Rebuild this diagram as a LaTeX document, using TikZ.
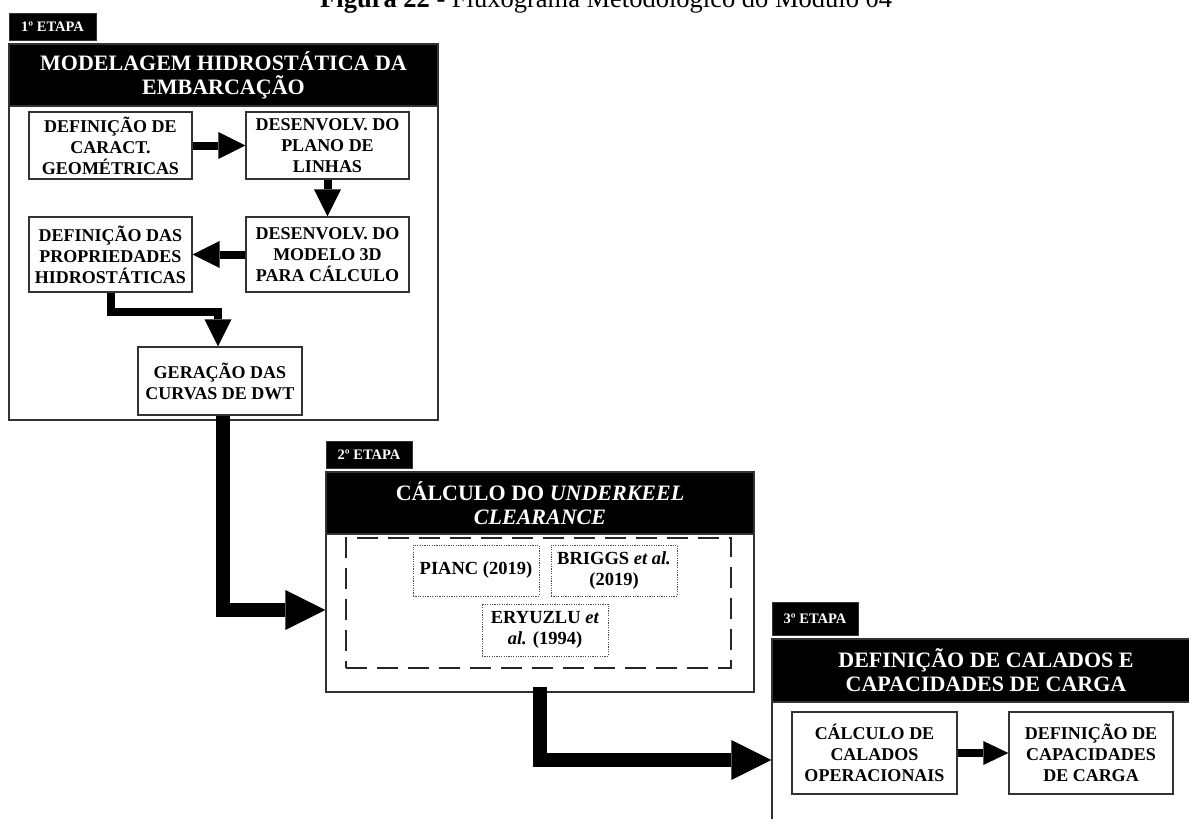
\documentclass[tikz,border=0pt]{standalone}
\usepackage{fontspec}
\setmainfont{Liberation Serif}
\usetikzlibrary{arrows.meta}

\tikzset{
  stagebox/.style={draw=black!80, line width=1.3pt, fill=white, inner sep=0pt},
  stagehead/.style={fill=black, draw=black!80, line width=1.3pt, text=white, inner sep=0pt,
    align=center, font=\fontsize{22}{24}\selectfont\bfseries},
  tagbox/.style={fill=black, draw=black!80, line width=1pt, text=white, inner sep=0pt,
    font=\fontsize{14.5}{14.5}\selectfont\bfseries},
  stepbox/.style={draw=black!80, line width=1.3pt, fill=white, inner sep=0pt, align=center,
    font=\fontsize{18}{21}\selectfont\bfseries},
  refbox/.style={draw=black!70, line width=1pt, dash pattern=on 1.2pt off 1.2pt, inner sep=0pt,
    align=center, font=\fontsize{18.5}{21}\selectfont\bfseries},
  groupbox/.style={draw=black!85, line width=1.5pt, dash pattern=on 21pt off 10pt, inner sep=0pt},
  bigarrow/.style={line width=14pt, -{Triangle[length=40pt,width=40pt,line width=0pt]}},
  midarrow/.style={line width=8pt, -{Triangle[length=27pt,width=27pt,line width=0pt]}},
  smallarrow/.style={line width=8pt, -{Triangle[length=25pt,width=24pt,line width=0pt]}},
}

\begin{document}
\begin{tikzpicture}[x=1pt, y=-1pt]
\useasboundingbox (0,0) rectangle (1189,819);
\clip (0,0) rectangle (1189,819);

% caption
\node[anchor=base west, inner sep=0pt, font=\fontsize{26.5}{28}\selectfont] (cap) at (320,8)
  {\textbf{Figura 22} - Fluxograma Metodológico do Módulo 04};

% ---------- stage 1 ----------
\node[tagbox, minimum width=87pt, minimum height=27pt] (t1) at (52.5,26.5) {1º ETAPA};
\node[stagebox, minimum width=429pt, minimum height=376pt] (s1) at (223.5,232) {};
\node[stagehead, minimum width=429pt, minimum height=62pt] (h1) at (223.5,75)
  {MODELAGEM HIDROSTÁTICA DA\\EMBARCAÇÃO};

\node[stepbox, minimum width=163pt, minimum height=67pt] (A) at (110.5,145.5)
  {DEFINIÇÃO DE\\CARACT.\\GEOMÉTRICAS};
\node[stepbox, minimum width=163pt, minimum height=67pt] (B) at (327.5,145.5)
  {DESENVOLV. DO\\PLANO DE\\LINHAS};
\node[stepbox, minimum width=163pt, minimum height=75pt] (C) at (327.5,254.5)
  {DESENVOLV. DO\\MODELO 3D\\PARA CÁLCULO};
\node[stepbox, minimum width=163pt, minimum height=75pt] (D) at (110.5,254.5)
  {DEFINIÇÃO DAS\\PROPRIEDADES\\HIDROSTÁTICAS};
\node[stepbox, minimum width=164pt, minimum height=68pt] (E) at (220,381)
  {GERAÇÃO DAS\\CURVAS DE DWT};

\draw[midarrow] (A.east) -- (B.west);
\draw[midarrow] (B.south) -- (C.north);
\draw[midarrow] (C.west) -- (D.east);
\draw[midarrow] (D.south) -- (D.south |- 0,312) -| ([xshift=-2pt]E.north);

% ---------- stage 2 ----------
\node[tagbox, minimum width=86pt, minimum height=27pt] (t2) at (369,454.5) {2º ETAPA};
\node[stagebox, minimum width=428pt, minimum height=220pt] (s2) at (540,582) {};
\node[stagehead, minimum width=428pt, minimum height=62pt] (h2) at (540,503)
  {CÁLCULO DO \textit{UNDERKEEL}\\\textit{CLEARANCE}};
\node[groupbox, minimum width=385pt, minimum height=130pt] (g2) at (538.5,603) {};

\node[refbox, minimum width=126pt, minimum height=51pt] (P) at (476,570.5) {PIANC (2019)};
\node[refbox, minimum width=126pt, minimum height=51pt] (Br) at (614,570.5)
  {BRIGGS \textit{et al.}\\(2019)};
\node[refbox, minimum width=126pt, minimum height=52pt] (Er) at (545,630)
  {ERYUZLU \textit{et}\\\textit{al.} (1994)};

% ---------- stage 3 ----------
\node[tagbox, minimum width=86pt, minimum height=33pt] (t3) at (815,618.5) {3º ETAPA};
\node[stagebox, minimum width=428pt, minimum height=221pt] (s3) at (986,749.5) {};
\node[stagehead, minimum width=428pt, minimum height=63pt] (h3) at (986,670.5)
  {DEFINIÇÃO DE CALADOS E\\CAPACIDADES DE CARGA};

\node[stepbox, minimum width=165pt, minimum height=82pt] (F) at (874.5,753)
  {CÁLCULO DE\\CALADOS\\OPERACIONAIS};
\node[stepbox, minimum width=164pt, minimum height=82pt] (G) at (1091,753)
  {DEFINIÇÃO DE\\CAPACIDADES\\DE CARGA};

\draw[smallarrow] (F.east) -- (G.west);

% ---------- links between stages ----------
\draw[bigarrow] ([xshift=3pt]E.south) |- (s2.west |- 0,610);
\draw[bigarrow] ([yshift=6pt]s2.south) |- (s3.west |- 0,760);
\end{tikzpicture}
\end{document}
